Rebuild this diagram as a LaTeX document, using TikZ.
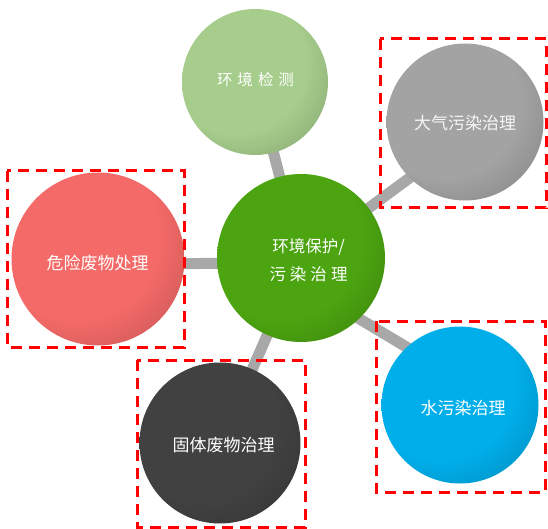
\documentclass[tikz,border=0pt]{standalone}
\usepackage{fontspec}
\newfontfamily\cjk{Noto Sans CJK SC}
\usetikzlibrary{calc}
\definecolor{cTop}{HTML}{A6CD8C}
\definecolor{cMid}{HTML}{4CA510}
\definecolor{cRed}{HTML}{F46A68}
\definecolor{cGray}{HTML}{A3A3A3}
\definecolor{cDark}{HTML}{414141}
\definecolor{cBlue}{HTML}{00AEEA}
\definecolor{barGray}{HTML}{A8A8A8}
\newcommand\mksph[2]{%
  \colorlet{#1a}{#2}\colorlet{#1b}{#2!82!black}\colorlet{#1c}{#2!50!black}\colorlet{#1d}{black}%
  \pgfdeclareradialshading{#1}{\pgfpoint{-10bp}{10bp}}{color(0bp)=(#1a); color(24bp)=(#1a); color(38bp)=(#1b); color(50bp)=(#1c); color(64bp)=(#1d)}}
\mksph{sphTop}{cTop}
\mksph{sphMid}{cMid}
\mksph{sphRed}{cRed}
\mksph{sphGray}{cGray}
\mksph{sphDark}{cDark}
\mksph{sphBlue}{cBlue}
\tikzset{
  sphere/.style={circle, inner sep=0pt, draw=none},
  lbl/.style={text=white, font=\cjk\fontsize{17}{20}\selectfont, inner sep=0pt},
  bar/.style={line width=11pt, draw=barGray},
  dbox/.style={draw=red, line width=3pt, dash pattern=on 11pt off 7pt}
}
\begin{document}
\begin{tikzpicture}[x=1pt,y=-1pt]
\useasboundingbox (0,0) rectangle (548,529);
% circle centres (named coordinates for connector ends)
\coordinate (pc) at (301,258);
\coordinate (pt) at (255,82);
\coordinate (pr) at (98,259);
\coordinate (pg) at (465,122);
\coordinate (pd) at (220,443);
\coordinate (pb) at (460,405);
% connectors
\draw[bar] (pc) -- (pt);
\draw[bar] ($(pc)+(0,5)$) -- ($(pr)+(0,5)$);
\draw[bar] (pc) -- ($(pg)+(0,15)$);
\draw[bar] (pc) -- (pd);
\draw[bar] ($(pc)+(0,26)$) -- ($(pb)+(0,-26)$);
% spheres
\node[sphere, minimum size=146pt, shade, shading=sphTop] (t) at (pt) {};
\node[sphere, minimum size=168pt, shade, shading=sphMid] (c) at (pc) {};
\node[sphere, minimum size=173pt, shade, shading=sphRed] (r) at (pr) {};
\node[sphere, minimum size=157pt, shade, shading=sphGray] (g) at (pg) {};
\node[sphere, minimum size=161pt, shade, shading=sphDark] (d) at (pd) {};
\node[sphere, minimum size=157pt, shade, shading=sphBlue] (b) at (pb) {};
% labels
\node[lbl, font=\cjk\fontsize{15.5}{18}\selectfont] (tl) at (255.5,80) {环\hspace{5pt}境\hspace{5pt}检\hspace{5pt}测};
\node[lbl, font=\cjk\fontsize{16.5}{20}\selectfont] (cl1) at (308.5,247) {环境保护/};
\node[lbl, font=\cjk\fontsize{16.5}{20}\selectfont] (cl2) at (308.5,274) {污\hspace{4pt}染\hspace{4pt}治\hspace{4pt}理};
\node[lbl] (rl) at (97.5,263) {危险废物处理};
\node[lbl, text=white!93!gray] (gl) at (465,123) {大气污染治理};
\node[lbl] (dl) at (223.5,445) {固体废物治理};
\node[lbl] (bl) at (463,408) {水污染治理};
% dashed boxes
\draw[dbox] (7,171) rectangle (184,347);
\draw[dbox] (380,39) rectangle (546,208);
\draw[dbox] (376,321) rectangle (545,492);
\draw[dbox] (137,360) rectangle (305,527);
\end{tikzpicture}
\end{document}
